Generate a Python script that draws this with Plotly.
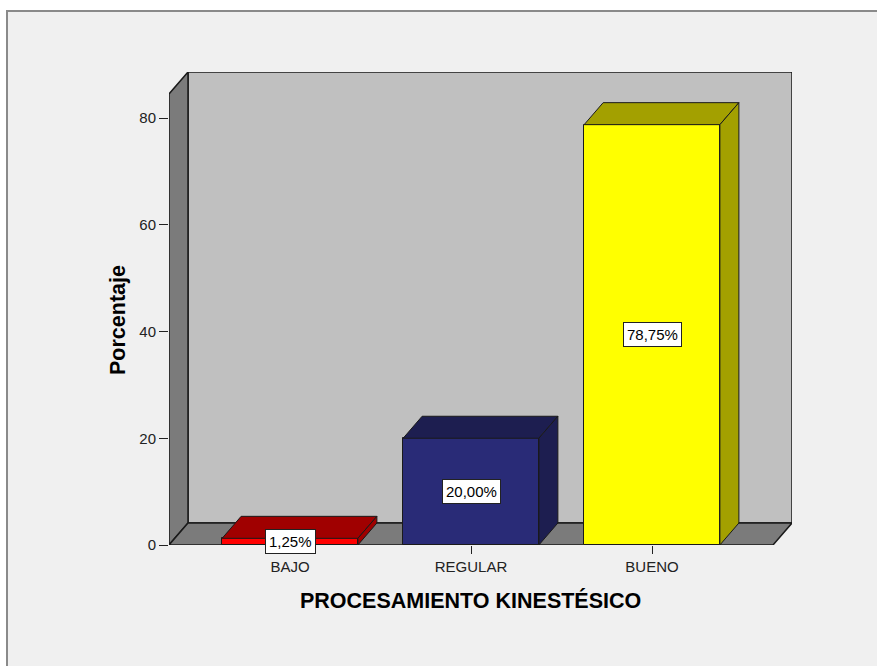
import plotly.graph_objects as go

# ---- data ----
categories = ["BAJO", "REGULAR", "BUENO"]
values = [1.25, 20.00, 78.75]
labels = ["1,25%", "20,00%", "78,75%"]
y_ticks = [0, 20, 40, 60, 80]
front_colors = ["#ff0000", "#292b77", "#ffff00"]
shade_colors = ["#a00000", "#1d1e50", "#a3a000"]

# ---- geometry (axis units) ----
W, H = 877, 666
L, R, T, B = 169, 85, 72, 121
xpx = 181.0          # px per category
ypx = 5.3375         # px per percent
x_min = -(290 - 169) / xpx
x_max = x_min + (W - L - R) / xpx
y_max = (H - T - B) / ypx
dx = 19 / xpx
dy = 22 / ypx
x_front_right = x_min + 604 / xpx
y_front_top = y_max - dy
bw = 0.75

xs = list(range(len(categories)))
edge = "#1a1a1a"
FONT = "Arial, Liberation Sans, sans-serif"

fig = go.Figure()
fig.add_trace(go.Bar(
    x=xs, y=values, width=bw,
    marker=dict(color=front_colors, line=dict(color=edge, width=1)),
    hoverinfo="skip", showlegend=False,
))

def px_to_paper_x(p):
    return (p - L) / (W - L - R)
def px_to_paper_y(p):
    return (H - B - p) / (H - T - B)

shapes = []
# outer frame
shapes.append(dict(type="rect", xref="paper", yref="paper", layer="below",
                   x0=px_to_paper_x(7), x1=px_to_paper_x(890),
                   y0=px_to_paper_y(680), y1=px_to_paper_y(11),
                   fillcolor="#f0f0f0", line=dict(color="#8a8a8a", width=2)))
# back wall
shapes.append(dict(type="rect", xref="x", yref="y", layer="below",
                   x0=x_min + dx, x1=x_max, y0=dy, y1=y_max,
                   fillcolor="#c0c0c0", line=dict(color=edge, width=1.5)))
# left wall
shapes.append(dict(type="path", xref="x", yref="y", layer="below",
                   path=f"M{x_min},0 L{x_min},{y_front_top} L{x_min+dx},{y_max} L{x_min+dx},{dy} Z",
                   fillcolor="#7b7b7b", line=dict(color=edge, width=1.5)))
# floor
shapes.append(dict(type="path", xref="x", yref="y", layer="below",
                   path=f"M{x_min},0 L{x_min+dx},{dy} L{x_max},{dy} L{x_front_right},0 Z",
                   fillcolor="#7b7b7b", line=dict(color=edge, width=1.5)))

# 3D faces of bars
for i, v in enumerate(values):
    x0 = xs[i] - bw / 2
    x1 = xs[i] + bw / 2
    shapes.append(dict(type="path", xref="x", yref="y", layer="above",
                       path=f"M{x0},{v} L{x0+dx},{v+dy} L{x1+dx},{v+dy} L{x1},{v} Z",
                       fillcolor=shade_colors[i], line=dict(color=edge, width=1)))
    shapes.append(dict(type="path", xref="x", yref="y", layer="above",
                       path=f"M{x1},0 L{x1},{v} L{x1+dx},{v+dy} L{x1+dx},{dy} Z",
                       fillcolor=shade_colors[i], line=dict(color=edge, width=1)))

annotations = []
for i, v in enumerate(values):
    annotations.append(dict(x=xs[i], y=v / 2, xref="x", yref="y", text=labels[i],
                            showarrow=False, bgcolor="white", bordercolor="#222",
                            borderwidth=1, borderpad=3,
                            font=dict(family=FONT, size=15, color="black")))
annotations.append(dict(x=px_to_paper_x(118), y=px_to_paper_y(320), xref="paper", yref="paper",
                        xanchor="center", yanchor="middle",
                        text="<b>Porcentaje</b>", textangle=-90, showarrow=False,
                        font=dict(family=FONT, size=21.5, color="black")))
annotations.append(dict(x=px_to_paper_x(470), y=px_to_paper_y(600), xref="paper", yref="paper",
                        xanchor="center", yanchor="middle",
                        text="<b>PROCESAMIENTO KINESTÉSICO</b>", showarrow=False,
                        font=dict(family=FONT, size=21.5, color="black")))

fig.update_layout(
    width=W, height=H,
    margin=dict(l=L, r=R, t=T, b=B, pad=0),
    paper_bgcolor="white",
    plot_bgcolor="rgba(0,0,0,0)",
    shapes=shapes,
    annotations=annotations,
    bargap=0,
    xaxis=dict(range=[x_min, x_max], tickvals=xs, ticktext=categories,
               showgrid=False, zeroline=False, showline=False,
               ticks="outside", ticklen=8, tickcolor="#222", tickwidth=1,
               tickfont=dict(family=FONT, size=15, color="#222")),
    yaxis=dict(range=[0, y_max], tickvals=y_ticks,
               showgrid=False, zeroline=False, showline=False,
               ticks="outside", ticklen=9, tickcolor="#222", tickwidth=1,
               tickfont=dict(family=FONT, size=15, color="#222")),
)

fig.write_html("out.html", config={"displayModeBar": False},
               post_script="document.body.style.margin='0px';")
